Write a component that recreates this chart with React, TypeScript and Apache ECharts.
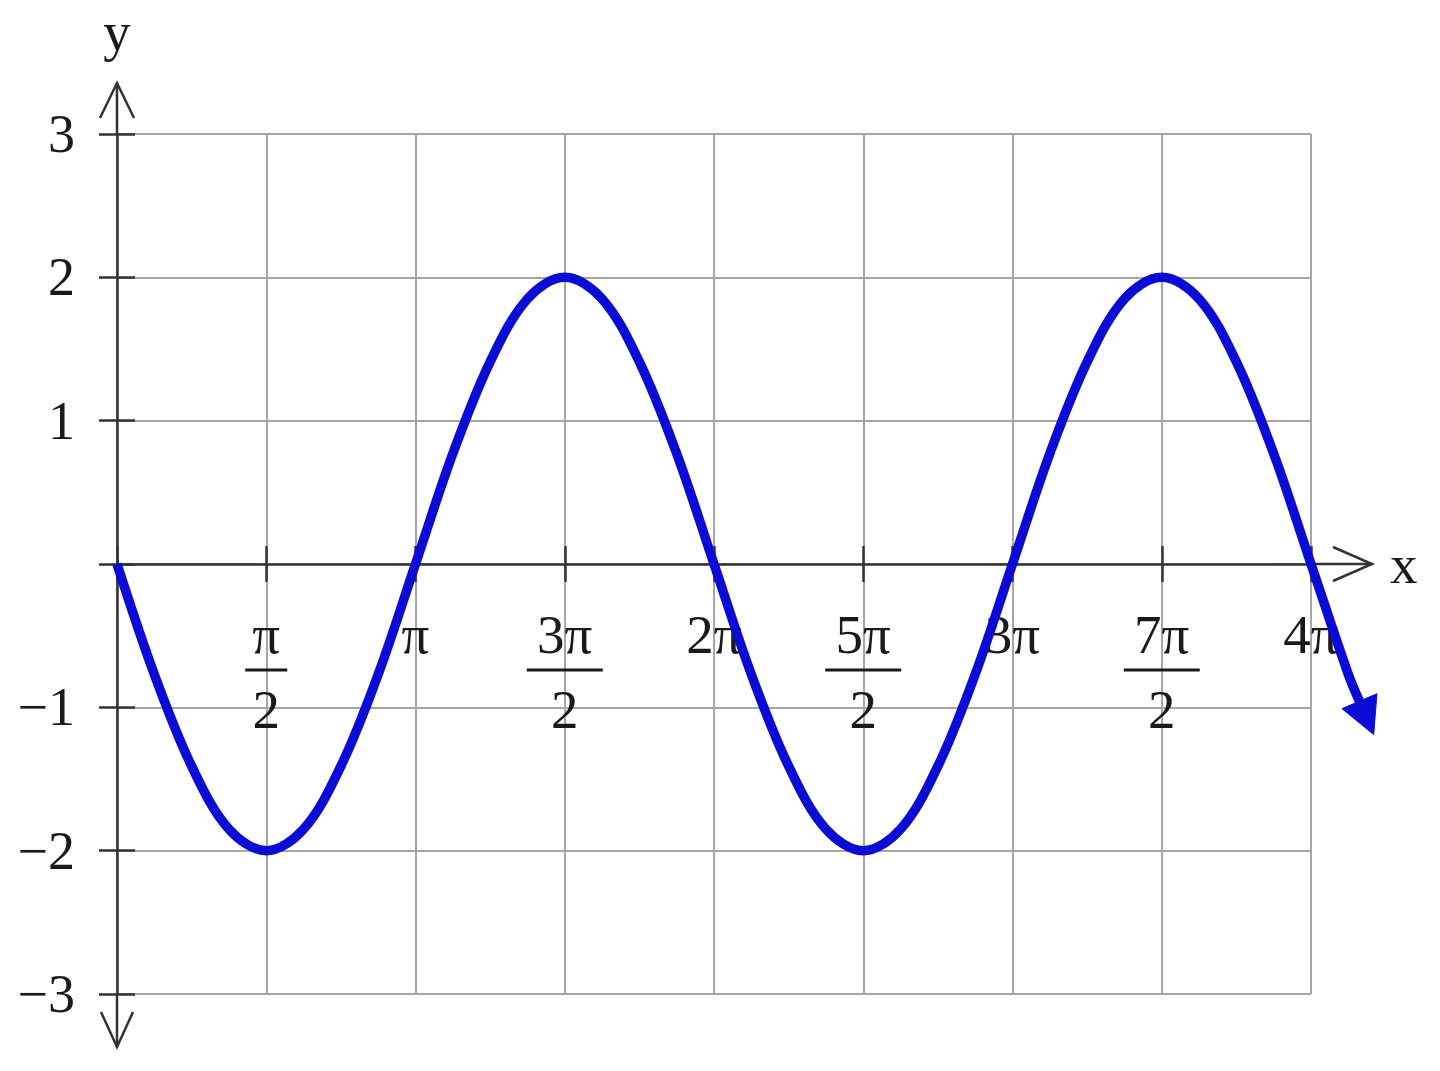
import React, { useEffect, useRef } from 'react';
import * as echarts from 'echarts';

// x in units of π
const xTickValues = [0, 0.5, 1, 1.5, 2, 2.5, 3, 3.5, 4];
const xTickNumerators = ['', 'π', 'π', '3π', '2π', '5π', '3π', '7π', '4π'];
const xTickDenominators = ['', '2', '', '2', '', '2', '', '2', ''];
const yTickValues = [-3, -2, -1, 0, 1, 2, 3];
const yTickLabels = ['−3', '−2', '−1', '', '1', '2', '3'];

const curveX = [
  0, 0.125, 0.25, 0.375, 0.5, 0.625, 0.75, 0.875,
  1, 1.125, 1.25, 1.375, 1.5, 1.625, 1.75, 1.875,
  2, 2.125, 2.25, 2.375, 2.5, 2.625, 2.75, 2.875,
  3, 3.125, 3.25, 3.375, 3.5, 3.625, 3.75, 3.875,
  4, 4.125, 4.165,
];
const curveY = [
  0, -0.77, -1.41, -1.85, -2, -1.85, -1.41, -0.77,
  0, 0.77, 1.41, 1.85, 2, 1.85, 1.41, 0.77,
  0, -0.77, -1.41, -1.85, -2, -1.85, -1.41, -0.77,
  0, 0.77, 1.41, 1.85, 2, 1.85, 1.41, 0.77,
  0, -0.77, -0.97,
];
const arrowTip = [4.21, -1.19];

const W = 1440;
const H = 1071;
const GRID = { left: 117, top: 134, right: 129, bottom: 77 };
const X_MAX = 4;
const X_MAX_EXT = 4.25;
const Y_MIN = -3;
const Y_MAX = 3;
const FONT = '"Liberation Serif", "Times New Roman", "DejaVu Serif", serif';
const AXIS_COLOR = '#333333';
const TEXT_COLOR = '#1a1a1a';
const GRID_COLOR = '#a6a6a6';
const CURVE_COLOR = '#0b0bd6';

export default function App() {
  const ref = useRef<HTMLDivElement>(null);

  useEffect(() => {
    if (!ref.current) return;
    document.body.style.margin = '0';
    const chart = echarts.init(ref.current, undefined, { renderer: 'svg' });

    const gridW = W - GRID.left - GRID.right;
    const gridH = H - GRID.top - GRID.bottom;
    // distance from the grid's bottom edge up to y = 0
    const zeroOffset = -(gridH * (0 - Y_MIN)) / (Y_MAX - Y_MIN);
    const extW = (gridW * X_MAX_EXT) / X_MAX;

    const xFormatter = (v: number) => {
      const i = xTickValues.findIndex((t) => Math.abs(t - v) < 1e-6);
      if (i < 0 || !xTickNumerators[i]) return '';
      const num = xTickNumerators[i];
      const den = xTickDenominators[i];
      if (!den) return `{num|${num}}`;
      const bar = num.length > 1 ? 'barL' : 'barS';
      return `{num|${num}}\n{${bar}|}\n{den|${den}}`;
    };
    const yFormatter = (v: number) => {
      const i = yTickValues.findIndex((t) => Math.abs(t - v) < 1e-6);
      return i < 0 ? '' : yTickLabels[i];
    };

    const tickStyle = { color: AXIS_COLOR, width: 2.5 };

    chart.setOption({
      animation: false,
      grid: [
        { ...GRID, containLabel: false, outerBoundsMode: 'none' },
        {
          left: GRID.left,
          top: GRID.top,
          bottom: GRID.bottom,
          width: extW,
          containLabel: false,
          outerBoundsMode: 'none',
        },
      ],
      xAxis: [
        {
          type: 'value',
          gridIndex: 0,
          min: 0,
          max: X_MAX,
          interval: 0.5,
          name: 'x',
          nameLocation: 'end',
          nameGap: 79,
          nameTextStyle: { fontFamily: FONT, fontSize: 55, color: TEXT_COLOR },
          axisLine: { show: true, onZero: true, lineStyle: tickStyle },
          axisTick: { show: true, inside: true, length: 18, lineStyle: tickStyle },
          axisLabel: { show: false },
          splitLine: { show: true, lineStyle: { color: GRID_COLOR, width: 2 } },
        },
        {
          type: 'value',
          gridIndex: 0,
          min: 0,
          max: X_MAX,
          interval: 0.5,
          position: 'bottom',
          offset: zeroOffset,
          axisLine: { show: false, onZero: false },
          axisTick: { show: true, inside: false, length: 18, lineStyle: tickStyle },
          axisLabel: {
            show: true,
            margin: 42,
            formatter: xFormatter,
            color: TEXT_COLOR,
            fontFamily: FONT,
            fontSize: 55,
            rich: {
              num: { fontFamily: FONT, fontSize: 55, lineHeight: 56, color: TEXT_COLOR },
              barS: { width: 42, height: 3, lineHeight: 16, backgroundColor: TEXT_COLOR },
              barL: { width: 76, height: 3, lineHeight: 16, backgroundColor: TEXT_COLOR },
              den: { fontFamily: FONT, fontSize: 55, lineHeight: 62, color: TEXT_COLOR },
            },
          },
          splitLine: { show: false },
        },
        {
          type: 'value',
          gridIndex: 1,
          min: 0,
          max: X_MAX_EXT,
          show: false,
        },
      ],
      yAxis: [
        {
          type: 'value',
          gridIndex: 0,
          min: Y_MIN,
          max: Y_MAX,
          interval: 1,
          position: 'left',
          name: 'y',
          nameLocation: 'end',
          nameGap: 75,
          nameTextStyle: {
            fontFamily: FONT,
            fontSize: 55,
            color: TEXT_COLOR,
            align: 'center',
            verticalAlign: 'bottom',
          },
          axisLine: { show: true, onZero: true, lineStyle: tickStyle },
          axisTick: { show: true, inside: false, length: 18, lineStyle: tickStyle },
          axisLabel: {
            show: true,
            margin: 42,
            formatter: yFormatter,
            color: TEXT_COLOR,
            fontFamily: FONT,
            fontSize: 54,
          },
          splitLine: { show: true, lineStyle: { color: GRID_COLOR, width: 2 } },
        },
        {
          type: 'value',
          gridIndex: 0,
          min: Y_MIN,
          max: Y_MAX,
          interval: 1,
          position: 'left',
          axisLine: { show: false, onZero: false },
          axisTick: { show: true, inside: true, length: 18, lineStyle: tickStyle },
          axisLabel: { show: false },
          splitLine: { show: false },
        },
        {
          type: 'value',
          gridIndex: 1,
          min: Y_MIN,
          max: Y_MAX,
          show: false,
        },
      ],
      series: [
        {
          type: 'line',
          xAxisIndex: 2,
          yAxisIndex: 2,
          data: curveX.map((x, i) => [x, curveY[i]]),
          smooth: 0.35,
          showSymbol: false,
          symbol: 'none',
          clip: false,
          z: 5,
          lineStyle: { color: CURVE_COLOR, width: 9.5, cap: 'butt' },
        },
      ],
    });

    const finder = { xAxisIndex: 0, yAxisIndex: 0 };
    const sFinder = { seriesIndex: 0 };
    const o = chart.convertToPixel(finder, [0, 0]) as number[];
    const tr = chart.convertToPixel(finder, [X_MAX, Y_MAX]) as number[];
    const bl = chart.convertToPixel(finder, [0, Y_MIN]) as number[];
    const last = curveX.length - 1;
    const B = chart.convertToPixel(sFinder, [curveX[last], curveY[last]]) as number[];
    const T = chart.convertToPixel(sFinder, arrowTip) as number[];

    const xEnd = tr[0] + 61;
    const yTop = tr[1] - 51;
    const yBot = bl[1] + 53;
    const dx = T[0] - B[0];
    const dy = T[1] - B[1];
    const len = Math.hypot(dx, dy) || 1;
    const ux = dx / len;
    const uy = dy / len;
    const px = -uy;
    const py = ux;
    const hw = 19;
    const bx = B[0] - ux * 2;
    const by = B[1] - uy * 2;

    const axisStroke = { stroke: AXIS_COLOR, lineWidth: 2.5, fill: 'none' };

    chart.setOption({
      graphic: [
        { type: 'line', z: 1, shape: { x1: tr[0] - 1, y1: o[1], x2: xEnd, y2: o[1] }, style: axisStroke },
        {
          type: 'polyline',
          z: 1,
          shape: { points: [[xEnd - 39, o[1] - 17], [xEnd, o[1]], [xEnd - 39, o[1] + 17]] },
          style: axisStroke,
        },
        { type: 'line', z: 1, shape: { x1: o[0], y1: tr[1] + 1, x2: o[0], y2: yTop }, style: axisStroke },
        {
          type: 'polyline',
          z: 1,
          shape: { points: [[o[0] - 17, yTop + 35], [o[0], yTop], [o[0] + 17, yTop + 35]] },
          style: axisStroke,
        },
        { type: 'line', z: 1, shape: { x1: o[0], y1: bl[1] - 1, x2: o[0], y2: yBot }, style: axisStroke },
        {
          type: 'polyline',
          z: 1,
          shape: { points: [[o[0] - 16, yBot - 35], [o[0], yBot], [o[0] + 16, yBot - 35]] },
          style: axisStroke,
        },
        {
          type: 'polygon',
          z: 20,
          shape: {
            points: [
              [T[0], T[1]],
              [bx + px * hw, by + py * hw],
              [bx - px * hw, by - py * hw],
            ],
          },
          style: { fill: CURVE_COLOR, stroke: CURVE_COLOR, lineWidth: 1, lineJoin: 'miter' },
        },
      ],
    });

    return () => {
      chart.dispose();
    };
  }, []);

  return (
    <div
      ref={ref}
      style={{ position: 'absolute', left: 0, top: 0, width: W, height: H, background: '#ffffff' }}
    />
  );
}
